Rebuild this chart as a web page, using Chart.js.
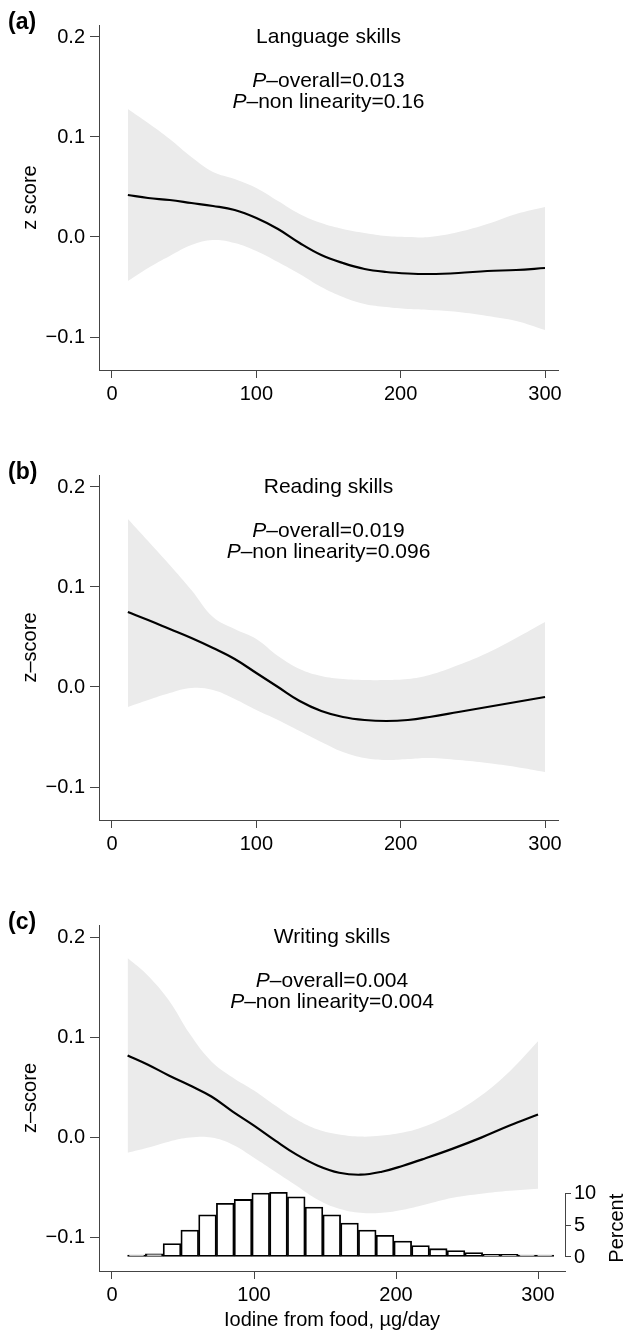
<!DOCTYPE html>
<html lang="en">
<head>
<meta charset="utf-8" />
<title>Iodine from food and school skills</title>
<script src="https://cdn.jsdelivr.net/npm/chart.js@4.4.1/dist/chart.umd.min.js"></script>
<style>
  body { margin: 0; background: #fff; }
  .panel { position: absolute; left: 0; width: 627px; }
</style>
</head>
<body>
<div class="panel" style="top:0;height:430px"><canvas id="chartA"></canvas></div>
<div class="panel" style="top:450px;height:430px"><canvas id="chartB"></canvas></div>
<div class="panel" style="top:900px;height:434px"><canvas id="chartC"></canvas></div>

<script>
// iodine intake (µg/day) where the curves were read
const xs = [11, 25, 40, 55, 70, 85, 100, 115, 130, 145, 160, 175, 190, 205, 220, 240, 260, 280, 300];

// (a) language skills
const langFit  = [0.042, 0.039, 0.037, 0.034, 0.031, 0.027, 0.019, 0.008, -0.006, -0.018, -0.026, -0.032, -0.035, -0.0365, -0.037, -0.036, -0.034, -0.033, -0.031];
const langHigh = [0.128, 0.114, 0.098, 0.080, 0.065, 0.058, 0.049, 0.036, 0.023, 0.014, 0.008, 0.004, 0.001, 0.000, 0.000, 0.005, 0.013, 0.023, 0.030];
const langLow  = [-0.044, -0.031, -0.019, -0.008, -0.003, -0.006, -0.014, -0.025, -0.037, -0.050, -0.060, -0.067, -0.070, -0.072, -0.073, -0.075, -0.079, -0.084, -0.093];

// (b) reading skills
const readFit  = [0.075, 0.067, 0.058, 0.049, 0.039, 0.028, 0.014, 0.000, -0.014, -0.024, -0.030, -0.033, -0.034, -0.033, -0.030, -0.025, -0.020, -0.015, -0.010];
const readHigh = [0.168, 0.146, 0.122, 0.097, 0.070, 0.058, 0.048, 0.031, 0.018, 0.011, 0.008, 0.007, 0.007, 0.008, 0.012, 0.022, 0.034, 0.049, 0.065];
const readLow  = [-0.020, -0.013, -0.006, -0.001, -0.003, -0.012, -0.023, -0.033, -0.044, -0.055, -0.065, -0.071, -0.073, -0.072, -0.071, -0.073, -0.076, -0.080, -0.085];

// (c) writing skills
const writeFit  = [0.082, 0.073, 0.062, 0.052, 0.041, 0.026, 0.012, -0.003, -0.017, -0.028, -0.035, -0.037, -0.034, -0.028, -0.021, -0.011, 0.000, 0.012, 0.023];
const writeHigh = [0.179, 0.162, 0.137, 0.103, 0.076, 0.060, 0.047, 0.032, 0.018, 0.008, 0.003, 0.001, 0.002, 0.005, 0.011, 0.024, 0.042, 0.066, 0.096];
const writeLow  = [-0.015, -0.010, -0.004, 0.000, 0.000, -0.007, -0.020, -0.034, -0.048, -0.062, -0.071, -0.075, -0.075, -0.072, -0.067, -0.060, -0.056, -0.053, -0.051];

// intake distribution (percent per bin, bin centres)
const binCentres = [17.25, 29.75, 42.25, 54.75, 67.25, 79.75, 92.25, 104.75, 117.25, 129.75, 142.25, 154.75,
                    167.25, 179.75, 192.25, 204.75, 217.25, 229.75, 242.25, 254.75, 267.25, 279.75, 292.25, 304.75];
const binPercent = [0.1, 0.5, 2.1, 4.2, 6.6, 8.4, 9.0, 10.0, 10.1, 9.4, 7.8, 6.6,
                    5.3, 4.2, 3.4, 2.5, 1.8, 1.3, 1.0, 0.7, 0.4, 0.4, 0.25, 0.05];

const xTicks = [0, 100, 200, 300];
const yTicks = [0.2, 0.1, 0.0, -0.1];
const yTickLabels = ['0.2', '0.1', '0.0', '\u22120.1'];
const pctTicks = [0, 5, 10];

const FONT = '"Liberation Sans", Arial, Helvetica, sans-serif';
const AXIS = '#444';
const BAND = '#ebebeb';

function pts(values) {
    return xs.map((x, i) => ({ x, y: values[i] }));
}

function drawP(ctx, rest, cx, y) {
    ctx.font = 'italic 21px ' + FONT;
    const wP = ctx.measureText('P').width;
    ctx.font = '21px ' + FONT;
    const wR = ctx.measureText(rest).width;
    const left = cx - (wP + wR) / 2;
    ctx.textAlign = 'left';
    ctx.font = 'italic 21px ' + FONT;
    ctx.fillText('P', left, y);
    ctx.font = '21px ' + FONT;
    ctx.fillText(rest, left + wP, y);
}

function textPlugin(cfg) {
    return {
        id: 'panelText',
        afterDraw(chart) {
            const ctx = chart.ctx;
            const area = chart.chartArea;
            const cx = (area.left + area.right) / 2;
            ctx.save();
            ctx.fillStyle = '#000';
            ctx.textBaseline = 'alphabetic';

            ctx.font = 'bold 23px ' + FONT;
            ctx.textAlign = 'left';
            ctx.fillText(cfg.label, 8, 29);

            ctx.font = '21px ' + FONT;
            ctx.textAlign = 'center';
            ctx.fillText(cfg.title, cx, 43);
            drawP(ctx, '\u2013overall=' + cfg.pOverall, cx, 87);
            drawP(ctx, '\u2013non linearity=' + cfg.pNonlin, cx, 108);

            // y axis title
            ctx.save();
            ctx.translate(30, (area.top + area.bottom) / 2);
            ctx.rotate(-Math.PI / 2);
            ctx.font = '20px ' + FONT;
            ctx.textAlign = 'center';
            ctx.textBaseline = 'middle';
            ctx.fillText(cfg.yTitle, 0, 0);
            ctx.restore();

            const y2 = chart.scales.y2;
            if (y2) {
                // short bracket axis for the histogram
                ctx.strokeStyle = AXIS;
                ctx.lineWidth = 1;
                ctx.beginPath();
                ctx.moveTo(y2.left + 0.5, y2.getPixelForValue(0));
                ctx.lineTo(y2.left + 0.5, y2.getPixelForValue(10));
                ctx.stroke();

                ctx.save();
                ctx.translate(617, y2.getPixelForValue(4.5));
                ctx.rotate(-Math.PI / 2);
                ctx.font = '20px ' + FONT;
                ctx.textAlign = 'center';
                ctx.textBaseline = 'middle';
                ctx.fillText('Percent', 0, 0);
                ctx.restore();
            }
            ctx.restore();
        }
    };
}

function makePanel(id, cfg) {
    const datasets = [
        { data: pts(cfg.high), fill: '+1', backgroundColor: BAND, borderWidth: 0, pointRadius: 0, tension: 0.4, order: 3 },
        { data: pts(cfg.low), fill: false, borderWidth: 0, pointRadius: 0, tension: 0.4, order: 2 },
        { data: pts(cfg.fit), fill: false, borderColor: '#000', borderWidth: 2.2, pointRadius: 0, tension: 0.4, order: 0 }
    ];

    const scales = {
        x: {
            type: 'linear', min: cfg.xMin, max: cfg.xMax, offset: false,
            afterBuildTicks: s => { s.ticks = xTicks.map(v => ({ value: v })); },
            afterFit: s => { s.height = cfg.xAxisHeight; },
            grid: { offset: false, drawOnChartArea: false, drawTicks: true, tickLength: 8, color: AXIS },
            border: { display: true, color: AXIS, width: 1 },
            ticks: { color: '#000', font: { family: FONT, size: 20 }, padding: 4, maxRotation: 0, autoSkip: false,
                     callback: v => String(v) },
            title: { display: !!cfg.xTitle, text: cfg.xTitle || '', color: '#000',
                     font: { family: FONT, size: 20 }, padding: { top: 4, bottom: 2 } }
        },
        y: {
            type: 'linear', min: -0.133, max: 0.212,
            afterBuildTicks: s => { s.ticks = yTicks.map(v => ({ value: v })); },
            afterFit: s => { s.width = 99; },
            grid: { drawOnChartArea: false, drawTicks: true, tickLength: 9, color: AXIS },
            border: { display: true, color: AXIS, width: 1 },
            ticks: { color: '#000', font: { family: FONT, size: 20 }, padding: 5,
                     callback: (v, i) => yTickLabels[i] }
        }
    };

    if (cfg.hist) {
        datasets.push({
            type: 'bar', yAxisID: 'y2',
            data: binCentres.map((x, i) => ({ x, y: binPercent[i] })),
            backgroundColor: '#ffffff', borderColor: '#000', borderWidth: 1.8,
            borderSkipped: false, minBarLength: 2,
            barPercentage: 1, categoryPercentage: 1, order: 1,
            clip: { left: 0, top: 0, right: 0, bottom: 0 }
        });
        scales.y2 = {
            type: 'linear', position: 'right', min: -2.19, max: 51.9,
            afterBuildTicks: s => { s.ticks = pctTicks.map(v => ({ value: v })); },
            afterFit: s => { s.width = 62; },
            grid: { drawOnChartArea: false, drawTicks: true, tickLength: 6, color: AXIS },
            border: { display: false },
            ticks: { color: '#000', font: { family: FONT, size: 20 }, padding: 3 }
        };
    }

    new Chart(document.getElementById(id), {
        type: 'line',
        data: { datasets },
        options: {
            responsive: true,
            maintainAspectRatio: false,
            animation: false,
            layout: { padding: { top: 25, right: cfg.padRight, left: 0, bottom: 0 } },
            plugins: { legend: { display: false }, tooltip: { enabled: false } },
            scales
        },
        plugins: [textPlugin(cfg)]
    });
}

makePanel('chartA', {
    label: '(a)', title: 'Language skills', pOverall: '0.013', pNonlin: '0.16', yTitle: 'z score',
    fit: langFit, high: langHigh, low: langLow,
    xMin: -9, xMax: 309, xAxisHeight: 60, padRight: 69
});

makePanel('chartB', {
    label: '(b)', title: 'Reading skills', pOverall: '0.019', pNonlin: '0.096', yTitle: 'z\u2013score',
    fit: readFit, high: readHigh, low: readLow,
    xMin: -9, xMax: 309, xAxisHeight: 60, padRight: 69
});

makePanel('chartC', {
    label: '(c)', title: 'Writing skills', pOverall: '0.004', pNonlin: '0.004', yTitle: 'z\u2013score',
    xTitle: 'Iodine from food, \u00b5g/day',
    fit: writeFit, high: writeHigh, low: writeLow, hist: true,
    xMin: -9.15, xMax: 319, xAxisHeight: 63, padRight: 0
});
</script>
</body>
</html>
